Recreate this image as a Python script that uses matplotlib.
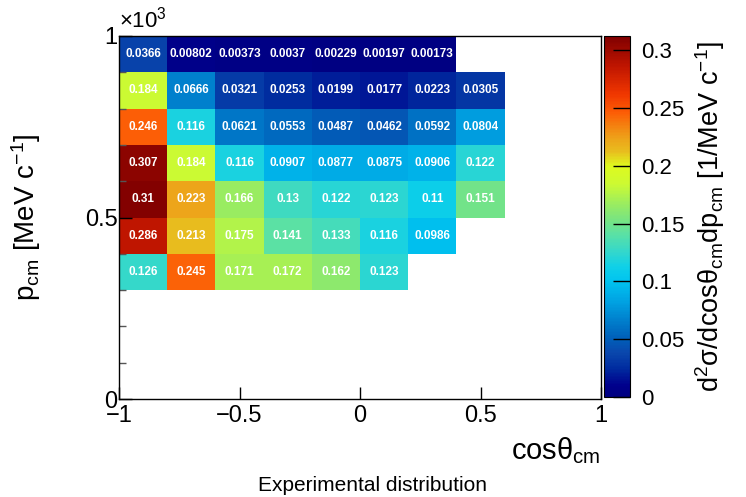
import matplotlib
matplotlib.use("Agg")
import matplotlib.pyplot as plt
import numpy as np
from matplotlib.colors import LinearSegmentedColormap
from matplotlib.ticker import FixedLocator, FuncFormatter, MultipleLocator

plt.rcParams['font.family'] = ['Liberation Sans', 'DejaVu Sans']
plt.rcParams['mathtext.fontset'] = 'custom'
plt.rcParams['mathtext.rm'] = 'Liberation Sans'
plt.rcParams['mathtext.it'] = 'Liberation Sans'
plt.rcParams['mathtext.default'] = 'rm'

# bin edges: cos(theta_cm) and p_cm (x10^3 MeV/c)
cos_edges = np.round(np.arange(-1.0, 1.0001, 0.2), 2)
p_edges = np.round(np.arange(0.0, 1.0001, 0.1), 2)

# filled rows, from p = 0.3 upwards; each row starts at cos = -1
row_p_low = [0.3, 0.4, 0.5, 0.6, 0.7, 0.8, 0.9]
row_vals = [
    [0.126, 0.245, 0.171, 0.172, 0.162, 0.123],
    [0.286, 0.213, 0.175, 0.141, 0.133, 0.116, 0.0986],
    [0.31, 0.223, 0.166, 0.13, 0.122, 0.123, 0.11, 0.151],
    [0.307, 0.184, 0.116, 0.0907, 0.0877, 0.0875, 0.0906, 0.122],
    [0.246, 0.116, 0.0621, 0.0553, 0.0487, 0.0462, 0.0592, 0.0804],
    [0.184, 0.0666, 0.0321, 0.0253, 0.0199, 0.0177, 0.0223, 0.0305],
    [0.0366, 0.00802, 0.00373, 0.0037, 0.00229, 0.00197, 0.00173],
]
zmax = 0.3124

grid = np.full((len(p_edges) - 1, len(cos_edges) - 1), np.nan)
for plow, vals in zip(row_p_low, row_vals):
    j = int(round(plow / 0.1))
    grid[j, :len(vals)] = vals
grid = np.ma.masked_invalid(grid)

stops = [
    (0.00, (0, 0, 128)),
    (0.03, (0, 0, 140)),
    (0.08, (0, 45, 160)),
    (0.12, (10, 70, 172)),
    (0.16, (0, 95, 185)),
    (0.20, (0, 120, 200)),
    (0.26, (0, 160, 225)),
    (0.32, (0, 195, 240)),
    (0.36, (15, 208, 232)),
    (0.40, (50, 215, 205)),
    (0.45, (90, 225, 165)),
    (0.49, (120, 228, 130)),
    (0.53, (150, 235, 100)),
    (0.59, (205, 250, 50)),
    (0.64, (222, 250, 30)),
    (0.68, (232, 190, 30)),
    (0.72, (238, 160, 25)),
    (0.79, (252, 92, 5)),
    (0.84, (240, 55, 0)),
    (0.92, (190, 20, 0)),
    (1.00, (128, 0, 0)),
]
cmap = LinearSegmentedColormap.from_list(
    'rootpal', [(s, tuple(c / 255 for c in col)) for s, col in stops], N=256)

fig = plt.figure(figsize=(7.46, 4.97), dpi=100)
ax = fig.add_axes([119 / 746, 98 / 497, 482 / 746, 363 / 497])
cax = fig.add_axes([604 / 746, 100 / 497, 26 / 746, 361 / 497])

mesh = ax.pcolormesh(cos_edges, p_edges, grid, cmap=cmap, vmin=0, vmax=zmax,
                     edgecolors='none')

xc = 0.5 * (cos_edges[:-1] + cos_edges[1:])
yc = 0.5 * (p_edges[:-1] + p_edges[1:])
for j in range(grid.shape[0]):
    for i in range(grid.shape[1]):
        if grid.mask[j, i]:
            continue
        ax.text(xc[i], yc[j], "%.3g" % grid[j, i], ha='center', va='center',
                color='white', fontsize=8.5, fontweight='bold')

ax.set_xlim(-1, 1)
ax.set_ylim(0, 1)
ax.xaxis.set_major_locator(FixedLocator([-1, -0.5, 0, 0.5, 1]))
ax.yaxis.set_major_locator(FixedLocator([0, 0.5, 1]))
ax.yaxis.set_minor_locator(MultipleLocator(0.1))
fmt = FuncFormatter(lambda v, pos: ("%g" % v).replace('-', '\u2212'))
ax.xaxis.set_major_formatter(fmt)
ax.yaxis.set_major_formatter(fmt)
ax.tick_params(which='both', direction='in', top=False, right=False,
               labelsize=17, width=1, colors='black')
ax.tick_params(axis='x', which='major', length=9, pad=4)
ax.tick_params(axis='y', which='major', length=9, pad=1)
ax.tick_params(which='minor', length=5)
ax.tick_params(axis='y', which='minor', colors='#555555')
for sp in ax.spines.values():
    sp.set_linewidth(1.0)

ax.text(0.0, 1.01, r"$\times$10$^{3}$", transform=ax.transAxes,
        ha='left', va='bottom', fontsize=16)

ax.set_xlabel(r"cos$\theta_{\rm cm}$", fontsize=21, ha='right', x=1.0,
              labelpad=6)
ax.set_ylabel(r"p$_{\rm cm}$ [MeV c$^{-1}$]", fontsize=20, labelpad=30)

cb = fig.colorbar(mesh, cax=cax)
cb.outline.set_linewidth(0.8)
cb.set_ticks([0, 0.05, 0.1, 0.15, 0.2, 0.25, 0.3])
cb.ax.yaxis.set_major_formatter(FuncFormatter(lambda v, pos: "%g" % v))
cb.ax.tick_params(direction='in', length=12, width=1, labelsize=16, pad=8)
cb.set_label(r"d$^{2}\sigma$/dcos$\theta_{\rm cm}$dp$_{\rm cm}$ [1/MeV c$^{-1}$]",
             fontsize=19.5, labelpad=6)

fig.text(0.5, 0.024, "Experimental distribution", ha='center', va='center',
         fontsize=15)

fig.savefig("out.png", dpi=100)
